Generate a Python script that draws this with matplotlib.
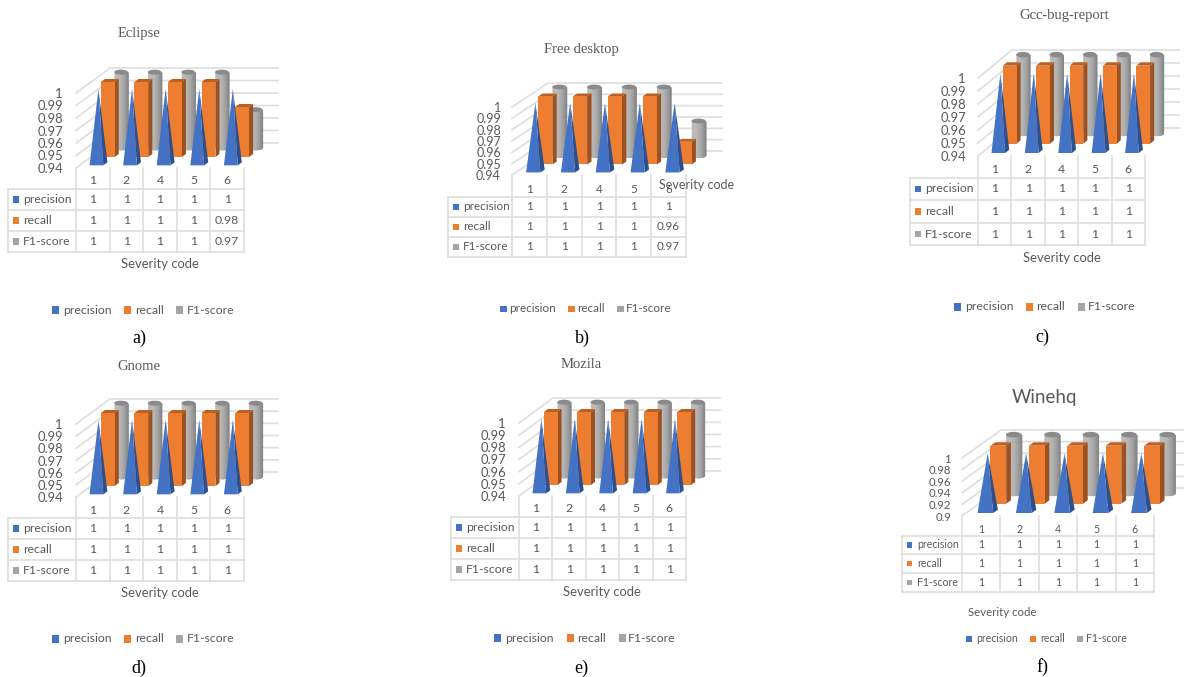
import numpy as np
import matplotlib
matplotlib.use('Agg')
import matplotlib.pyplot as plt
from matplotlib.patches import Polygon, Rectangle, Ellipse

W, H = 1184, 677
TEXT = '#595959'
LINE = '#dedede'

categories = ['1', '2', '4', '5', '6']
series_names = ['precision', 'recall', 'F1-score']

ticks_common = [0.94, 0.95, 0.96, 0.97, 0.98, 0.99, 1]
ticks_winehq = [0.9, 0.92, 0.94, 0.96, 0.98, 1]

eclipse_precision = [1, 1, 1, 1, 1]
eclipse_recall = [1, 1, 1, 1, 0.98]
eclipse_f1 = [1, 1, 1, 1, 0.97]

freedesktop_precision = [1, 1, 1, 1, 1]
freedesktop_recall = [1, 1, 1, 1, 0.96]
freedesktop_f1 = [1, 1, 1, 1, 0.97]

gcc_precision = [1, 1, 1, 1, 1]
gcc_recall = [1, 1, 1, 1, 1]
gcc_f1 = [1, 1, 1, 1, 1]

gnome_precision = [1, 1, 1, 1, 1]
gnome_recall = [1, 1, 1, 1, 1]
gnome_f1 = [1, 1, 1, 1, 1]

mozila_precision = [1, 1, 1, 1, 1]
mozila_recall = [1, 1, 1, 1, 1]
mozila_f1 = [1, 1, 1, 1, 1]

winehq_precision = [1, 1, 1, 1, 1]
winehq_recall = [1, 1, 1, 1, 1]
winehq_f1 = [1, 1, 1, 1, 1]

# layout of each panel, all in pixels
panels = [
    dict(title='Eclipse', title_xy=(139, 33), caption='a)', caption_xy=(139, 338),
         data=(eclipse_precision, eclipse_recall, eclipse_f1), ticks=ticks_common,
         x0=76, x1=244, ybot=168, ytop=93, depth=(34, -25), tick_x=63, cat_y=181,
         rows=(189, 210, 231, 252), left=8, xlabel_xy=(160, 264), legend_y=310,
         legend_sq=(52, 124, 176), legend_tx=(63, 135, 187), fs=8.8),
    dict(title='Free desktop', title_xy=(581, 50), caption='b)', caption_xy=(582, 338),
         data=(freedesktop_precision, freedesktop_recall, freedesktop_f1), ticks=ticks_common,
         x0=512, x1=686, ybot=175, ytop=107, depth=(36, -24), tick_x=501, cat_y=190,
         rows=(197, 217, 237, 257), left=448, xlabel_xy=(697, 185), legend_y=309,
         legend_sq=(500, 568, 617), legend_tx=(509, 577, 626), fs=8.4),
    dict(title='Gcc-bug-report', title_xy=(1064, 16), caption='c)', caption_xy=(1042, 337),
         data=(gcc_precision, gcc_recall, gcc_f1), ticks=ticks_common,
         x0=978, x1=1145, ybot=156, ytop=78, depth=(34, -28), tick_x=966, cat_y=170,
         rows=(178, 200, 223, 245), left=910, xlabel_xy=(1062, 258), legend_y=307,
         legend_sq=(954, 1026, 1078), legend_tx=(965, 1036, 1088), fs=8.8),
    dict(title='Gnome', title_xy=(139, 366), caption='d)', caption_xy=(139, 668),
         data=(gnome_precision, gnome_recall, gnome_f1), ticks=ticks_common,
         x0=76, x1=244, ybot=497, ytop=424, depth=(34, -25), tick_x=63, cat_y=511,
         rows=(518, 539, 560, 581), left=8, xlabel_xy=(160, 593), legend_y=639,
         legend_sq=(52, 124, 176), legend_tx=(63, 135, 187), fs=8.8),
    dict(title='Mozila', title_xy=(581, 365), caption='e)', caption_xy=(581, 668),
         data=(mozila_precision, mozila_recall, mozila_f1), ticks=ticks_common,
         x0=519, x1=686, ybot=496, ytop=423, depth=(34, -25), tick_x=506, cat_y=509,
         rows=(517, 538, 559, 580), left=451, xlabel_xy=(602, 592), legend_y=638,
         legend_sq=(494, 567, 619), legend_tx=(505, 577, 628), fs=8.8),
    dict(title='Winehq', title_xy=(1044, 398), caption='f)', caption_xy=(1042, 667),
         data=(winehq_precision, winehq_recall, winehq_f1), ticks=ticks_winehq,
         x0=962, x1=1154, ybot=516, ytop=458, depth=(39, -28), tick_x=951, cat_y=529,
         rows=(536, 554, 573, 592), left=902, xlabel_xy=(1002, 613), legend_y=639,
         legend_sq=(966, 1030, 1077), legend_tx=(976, 1040, 1086), fs=7.6,
         title_sans=True),
]

BLUE, BLUE_SIDE = '#4472c4', '#2c4f8e'
ORANGE, ORANGE_SIDE, ORANGE_TOP = '#ed7d31', '#9c5120', '#bd5f1f'
GREY = '#a5a5a5'
square_cols = [BLUE, ORANGE, GREY]

BAR_W = 0.41       # share of a category
BAR_D = 0.06       # half depth of a box, share of the full depth
SANS = 'Lato'
SERIF = 'Liberation Serif'

plt.rcParams['font.family'] = SANS
fig = plt.figure(figsize=(W / 100, H / 100), dpi=100, facecolor='white')

# full figure layer in pixel units for the tables, legends and headings
page = fig.add_axes([0, 0, 1, 1], zorder=0)
page.set_xlim(0, W)
page.set_ylim(H, 0)
page.axis('off')


def draw_table(p):
    cw = (p['x1'] - p['x0']) / len(categories)
    rows = p['rows']
    fs = p['fs']
    for y in rows:
        page.plot([p['left'], p['x1']], [y, y], color=LINE, lw=1.2, zorder=1)
    for i in range(len(categories) + 1):
        page.plot([p['x0'] + i * cw] * 2, [p['ybot'], rows[-1]], color=LINE, lw=1.2, zorder=1)
    page.plot([p['left']] * 2, [rows[0], rows[-1]], color=LINE, lw=1.2, zorder=1)
    sq = 0.7 * fs
    for r, name in enumerate(series_names):
        cy = (rows[r] + rows[r + 1]) / 2
        page.add_patch(Rectangle((p['left'] + 5, cy - sq / 2), sq, sq, color=square_cols[r], lw=0))
        page.text(p['left'] + 15, cy, name, color=TEXT, fontsize=fs, ha='left', va='center')
        for i, v in enumerate(p['data'][r]):
            page.text(p['x0'] + (i + 0.5) * cw, cy, f'{v:g}', color=TEXT, fontsize=fs,
                      ha='center', va='center')


def draw_labels(p):
    fs = p['fs']
    fam = SANS if p.get('title_sans') else SERIF
    title_fs = 13.5 if p.get('title_sans') else 10.5
    page.text(*p['title_xy'], p['title'], color=TEXT, family=fam, fontsize=title_fs,
              ha='center', va='center')
    page.text(*p['caption_xy'], p['caption'], color='black', family=SERIF, fontsize=13,
              ha='center', va='center')
    page.text(*p['xlabel_xy'], 'Severity code', color=TEXT, fontsize=fs + 0.6,
              ha='center', va='center')
    sq = 0.8 * fs
    y = p['legend_y']
    for col, sx, tx, name in zip(square_cols, p['legend_sq'], p['legend_tx'], series_names):
        page.add_patch(Rectangle((sx, y - sq / 2), sq, sq, color=col, lw=0))
        page.text(tx, y, name, color=TEXT, fontsize=fs, ha='left', va='center')


def draw_chart(p):
    n = len(categories)
    cw = (p['x1'] - p['x0']) / n
    ticks = p['ticks']
    ymin, ymax = ticks[0], ticks[-1]
    scale = (p['ybot'] - p['ytop']) / (ymax - ymin)
    ax = fig.add_axes([p['x0'] / W, 1 - p['ybot'] / H, (p['x1'] - p['x0']) / W,
                       (p['ybot'] - p['ytop']) / H], zorder=1)
    ax.patch.set_visible(False)
    ax.set_xlim(0, n)
    ax.set_ylim(ymin, ymax)
    for s in ax.spines.values():
        s.set_visible(False)
    ax.set_yticks(ticks, [f'{t:g}' for t in ticks], color=TEXT, fontsize=p['fs'] + 0.6)
    ax.tick_params(axis='y', length=0, pad=(p['x0'] - p['tick_x']) * 0.72)
    ax.set_xticks(np.arange(n) + 0.5, categories, color=TEXT, fontsize=p['fs'])
    ax.tick_params(axis='x', length=0, pad=(p['cat_y'] - p['ybot'] - 0.5 * p['fs'] / 0.72) * 0.72)

    # depth d runs from 0 at the front plane to 1 at the back wall
    ddx = p['depth'][0] / cw
    ddy = -p['depth'][1] / scale

    def pt(x, v, d):
        return (x + d * ddx, v + d * ddy)

    def poly(points, color, z):
        ax.add_patch(Polygon(points, closed=True, facecolor=color, edgecolor='none',
                             clip_on=False, zorder=z))

    # walls: gridlines run along the side wall and then across the back
    for t in ticks:
        xs, ys = zip(pt(0, t, 0), pt(0, t, 1), pt(n, t, 1))
        ax.plot(xs, ys, color=LINE, lw=1.2, clip_on=False, zorder=1)

    precision, recall, f1 = p['data']

    # far row first so that nearer marks overlap it
    for i, v in enumerate(f1):
        cx, c = i + 0.5, 2.5 / 3
        x_mid, v_base = pt(cx, ymin, c)
        _, v_top = pt(cx, v, c)
        half = BAR_W / 2
        e = 0.1 * ddy
        xs = np.linspace(-1, 1, 25)
        for a, b in zip(xs[:-1], xs[1:]):
            m = (a + b) / 2
            shade = 0.69 - 0.08 * m * m - 0.11 * m
            x_pair = [x_mid + a * half, x_mid + b * half]
            low = [v_base - e * np.sqrt(1 - a * a), v_base - e * np.sqrt(1 - b * b)]
            ax.fill_between(x_pair, low, [v_top, v_top], color=str(shade), lw=0.3,
                            clip_on=False, zorder=2)
        ax.add_patch(Ellipse((x_mid, v_top), 2 * half, 2 * e, facecolor='#8a8a8a',
                             edgecolor='none', clip_on=False, zorder=2.1))

    for i, v in enumerate(recall):
        cx, c = i + 0.5, 1.5 / 3
        l, r = cx - BAR_W / 2, cx + BAR_W / 2
        df, db = c - BAR_D, c + BAR_D
        poly([pt(r, ymin, df), pt(r, ymin, db), pt(r, v, db), pt(r, v, df)], ORANGE_SIDE, 3)
        poly([pt(l, v, df), pt(r, v, df), pt(r, v, db), pt(l, v, db)], ORANGE_TOP, 3)
        poly([pt(l, ymin, df), pt(r, ymin, df), pt(r, v, df), pt(l, v, df)], ORANGE, 3.1)

    for i, v in enumerate(precision):
        cx, c = i + 0.5, 0.5 / 3
        l, r = cx - BAR_W / 2, cx + BAR_W / 2
        df, db = c - BAR_D, c + BAR_D
        apex = pt(cx, v, c)
        poly([pt(r, ymin, df), pt(r, ymin, db), apex], BLUE_SIDE, 4)
        poly([pt(l, ymin, df), pt(r, ymin, df), apex], BLUE, 4.1)


for p in panels:
    draw_table(p)
    draw_labels(p)
    draw_chart(p)

fig.savefig('out.png', dpi=100, facecolor='white')
